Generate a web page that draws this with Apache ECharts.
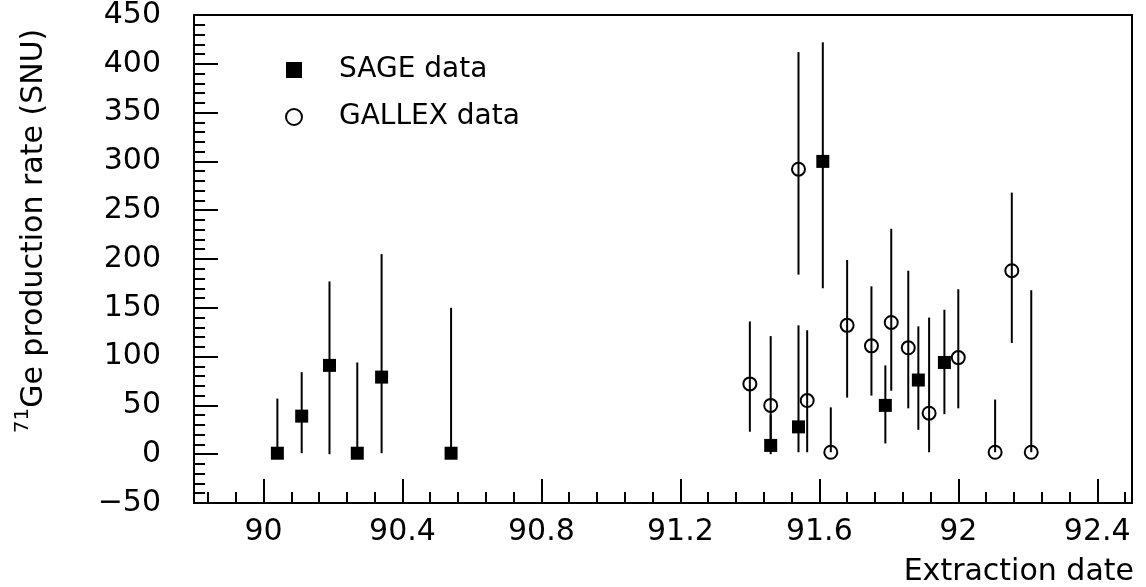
<!DOCTYPE html>
<html>
<head>
<meta charset="utf-8">
<title>71Ge production rate</title>
<script src="https://cdn.jsdelivr.net/npm/echarts@6/dist/echarts.min.js"></script>
<style>
  html, body { margin: 0; padding: 0; background: #fff; }
  #chart { width: 1146px; height: 587px; }
</style>
</head>
<body>
<div id="chart"></div>
<script>
// SAGE extractions: date, production rate (SNU), error bar limits
const sageDate = [90.04, 90.11, 90.19, 90.27, 90.34, 90.54, 91.46, 91.54, 91.61, 91.79, 91.885, 91.96];
const sageRate = [1, 39, 91, 1, 79, 1, 9, 28, 300, 50, 76, 94];
const sageLow  = [0, 1, 0, 0, 1, 0, 0, 2, 170, 11, 25, 41];
const sageHigh = [57, 84, 177, 94, 205, 150, 40, 132, 422, 91, 131, 148];

// GALLEX extractions: date, production rate (SNU), error bar limits
const gallexDate = [91.40, 91.46, 91.54, 91.565, 91.633, 91.68, 91.75, 91.807, 91.856, 91.916, 92.00, 92.106, 92.154, 92.21];
const gallexRate = [72, 50, 292, 55, 2, 132, 111, 135, 109, 42, 99, 2, 188, 2];
const gallexLow  = [23, 12, 184, 2, 2, 58, 60, 65, 47, 2, 47, 2, 114, 2];
const gallexHigh = [136, 121, 412, 127, 48, 199, 172, 231, 188, 140, 169, 56, 268, 168];

// axis ticks
const xTickLabels = [90, 90.4, 90.8, 91.2, 91.6, 92, 92.4];
const xMinorStep = 0.08;
const yTickLabels = [-50, 0, 50, 100, 150, 200, 250, 300, 350, 400, 450];

const FONT = 'DejaVu Sans';

const xMinorTicks = [];
for (let k = -2; k <= 31; k++) {
  if (k % 5 !== 0) xMinorTicks.push(+(90 + xMinorStep * k).toFixed(2));
}

const zip = (a, b) => a.map((v, i) => [v, b[i]]);
const bars = (d, lo, hi) => d.map((v, i) => [v, lo[i], hi[i]]);

function renderBar(params, api) {
  const p1 = api.coord([api.value(0), api.value(1)]);
  const p2 = api.coord([api.value(0), api.value(2)]);
  return {
    type: 'line',
    shape: { x1: p1[0], y1: p1[1], x2: p2[0], y2: p2[1] },
    style: { stroke: '#000', lineWidth: 2 }
  };
}

const chart = echarts.init(document.getElementById('chart'), null, { renderer: 'canvas' });

chart.setOption({
  animation: false,
  backgroundColor: '#fff',
  grid: {
    left: 194, right: 14, top: 13, bottom: 84,
    show: true, borderColor: '#000', borderWidth: 2, backgroundColor: 'transparent'
  },
  legend: {
    orient: 'vertical',
    left: 285, top: 56,
    padding: 0,
    itemGap: 19,
    itemWidth: 16, itemHeight: 16,
    selectedMode: false,
    textStyle: { fontFamily: FONT, fontSize: 28, color: '#000', padding: [0, 0, 0, 32] },
    data: [
      { name: 'SAGE data', icon: 'rect', itemStyle: { color: '#000', opacity: 1 } },
      { name: 'GALLEX data', icon: 'circle',
        itemStyle: { color: 'rgba(0,0,0,0)', borderColor: '#000', borderWidth: 2, opacity: 1 } }
    ]
  },
  xAxis: [
    {
      type: 'value', min: 89.8, max: 92.5,
      axisLine: { show: true, onZero: false, lineStyle: { color: '#000', width: 2 } },
      axisTick: { show: true, inside: true, length: 24, customValues: xTickLabels,
        lineStyle: { color: '#000', width: 2 } },
      axisLabel: { customValues: xTickLabels, fontFamily: FONT, fontSize: 30, color: '#000', margin: 14 },
      splitLine: { show: false }
    },
    {
      type: 'value', min: 89.8, max: 92.5, position: 'bottom',
      axisLine: { show: false, onZero: false },
      axisTick: { show: true, inside: true, length: 11, customValues: xMinorTicks,
        lineStyle: { color: '#000', width: 2 } },
      axisLabel: { show: false },
      splitLine: { show: false }
    }
  ],
  yAxis: {
    type: 'value', min: -50, max: 450, interval: 50,
    axisLine: { show: true, onZero: false, lineStyle: { color: '#000', width: 2 } },
    axisTick: { show: true, inside: true, length: 24, lineStyle: { color: '#000', width: 2 } },
    minorTick: { show: true, splitNumber: 5, length: 11, lineStyle: { color: '#000', width: 2 } },
    axisLabel: {
      fontFamily: FONT, fontSize: 30, color: '#000', margin: 33, padding: [6, 0, 0, 0],
      formatter: v => String(v).replace('-', '\u2212')
    },
    splitLine: { show: false }
  },
  graphic: [
    {
      type: 'text', x: 31, y: 231, rotation: Math.PI / 2,
      style: {
        text: '{sup|71}{t|Ge production rate (SNU)}',
        align: 'center', verticalAlign: 'middle',
        rich: {
          sup: { fontFamily: FONT, fontSize: 20, fill: '#000', verticalAlign: 'top', lineHeight: 18 },
          t: { fontFamily: FONT, fontSize: 30, fill: '#000', verticalAlign: 'bottom', lineHeight: 36 }
        }
      }
    },
    {
      type: 'text', x: 1134, y: 572,
      style: {
        text: 'Extraction date', fontFamily: FONT, fontSize: 30, fill: '#000',
        align: 'right', verticalAlign: 'middle'
      }
    }
  ],
  series: [
    {
      name: 'SAGE errors', type: 'custom', xAxisIndex: 0, renderItem: renderBar,
      data: bars(sageDate, sageLow, sageHigh), silent: true, z: 2
    },
    {
      name: 'GALLEX errors', type: 'custom', xAxisIndex: 0, renderItem: renderBar,
      data: bars(gallexDate, gallexLow, gallexHigh), silent: true, z: 2
    },
    {
      name: 'SAGE data', type: 'scatter', xAxisIndex: 0, symbol: 'rect', symbolSize: 13,
      itemStyle: { color: '#000', opacity: 1 }, data: zip(sageDate, sageRate), z: 3
    },
    {
      name: 'GALLEX data', type: 'scatter', xAxisIndex: 0, symbol: 'circle', symbolSize: 13,
      itemStyle: { color: 'rgba(0,0,0,0)', borderColor: '#000', borderWidth: 2, opacity: 1 },
      data: zip(gallexDate, gallexRate), z: 3
    }
  ]
});
</script>
</body>
</html>
